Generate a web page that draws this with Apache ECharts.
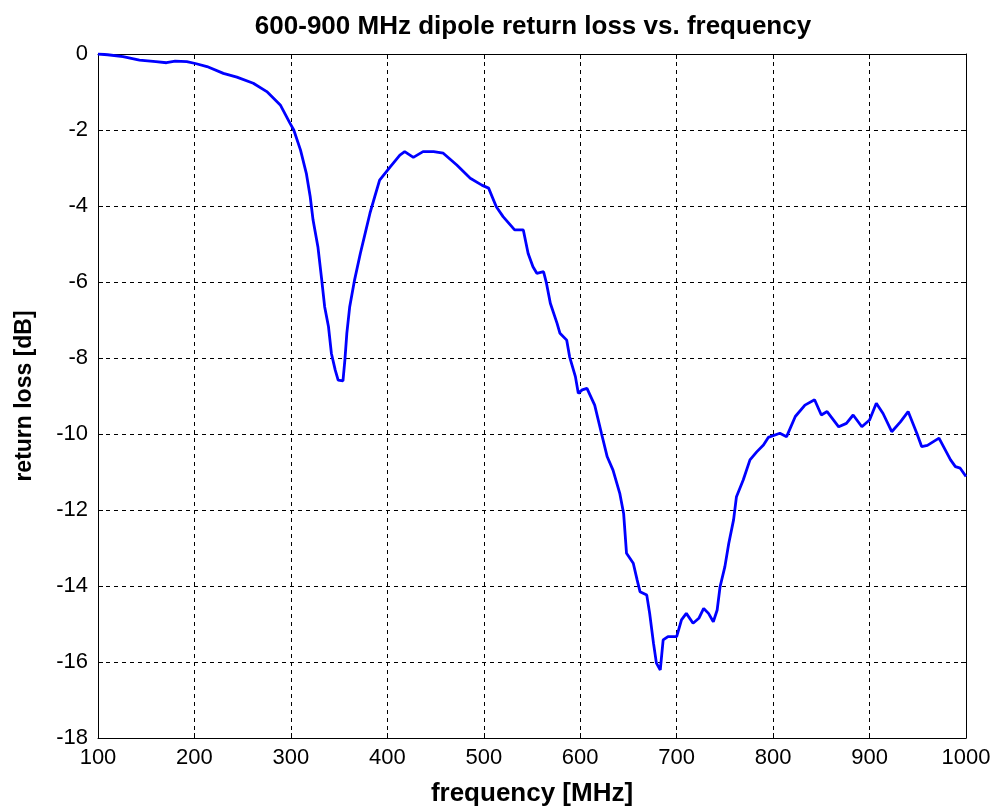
<!DOCTYPE html>
<html>
<head>
<meta charset="utf-8">
<script src="https://cdn.jsdelivr.net/npm/echarts@6/dist/echarts.min.js"></script>
<style>
  html, body { margin: 0; padding: 0; background: #fff; }
  #chart { width: 996px; height: 812px; }
</style>
</head>
<body>
<div id="chart"></div>
<script>
// Measured return loss of a 600-900 MHz dipole
const freqMHz = [100,110,126,143,160,171,180,192,201,213,230,244,261,275,289,299,303,310,316,320,323,328,332,335,339,342,346,349,354,356,358,361,366,372,377,382,387,392,403,413,418,427,437,448,458,472,486,498,505,513,520,532,541,546,551,555,562,565,569,576,579,586,589,595,598,602,607,615,622,628,634,641,645,648,655,659,662,669,672,676,679,683,686,691,700,705,710,717,723,728,733,738,742,745,750,754,759,762,769,776,783,790,795,807,814,823,833,843,850,856,868,876,883,892,900,907,914,923,932,940,949,954,960,972,984,989,994,1000];
const returnLossDb = [0,-0.02,-0.07,-0.16,-0.2,-0.23,-0.19,-0.2,-0.25,-0.33,-0.51,-0.61,-0.77,-0.99,-1.34,-1.82,-2.0,-2.53,-3.14,-3.75,-4.37,-5.07,-5.95,-6.65,-7.18,-7.88,-8.32,-8.58,-8.6,-8.05,-7.35,-6.65,-5.95,-5.25,-4.72,-4.19,-3.75,-3.32,-2.97,-2.66,-2.57,-2.72,-2.57,-2.57,-2.61,-2.92,-3.27,-3.45,-3.53,-4.02,-4.28,-4.63,-4.63,-5.25,-5.6,-5.77,-5.73,-6.03,-6.56,-7.09,-7.35,-7.53,-7.97,-8.49,-8.93,-8.84,-8.8,-9.24,-9.98,-10.6,-10.95,-11.56,-12.09,-13.14,-13.4,-13.84,-14.15,-14.24,-14.72,-15.51,-16.03,-16.21,-15.42,-15.33,-15.33,-14.89,-14.72,-14.98,-14.85,-14.59,-14.72,-14.94,-14.63,-14.02,-13.49,-12.88,-12.26,-11.65,-11.21,-10.68,-10.47,-10.29,-10.09,-9.98,-10.07,-9.54,-9.24,-9.1,-9.5,-9.41,-9.81,-9.72,-9.5,-9.81,-9.63,-9.19,-9.46,-9.94,-9.68,-9.41,-9.98,-10.33,-10.3,-10.11,-10.68,-10.86,-10.9,-11.12];

// Axis ranges and tick steps
const xRange = [100, 1000], xStep = 100;
const yRange = [-18, 0], yStep = 2;

const titleText = '600-900 MHz dipole return loss vs. frequency';
const xName = 'frequency [MHz]';
const yName = 'return loss [dB]';

const fontFamily = "'Liberation Sans', Arial, sans-serif";
const points = freqMHz.map((f, i) => [f, returnLossDb[i]]);

// Mirror axes on top and right close the plot box (ticks only)
const boxAxis = {
  axisLine: { show: true, onZero: false, lineStyle: { color: '#000', width: 1 } },
  axisTick: { show: true, inside: true, length: 5, lineStyle: { color: '#000' } },
  axisLabel: { show: false },
  splitLine: { show: false }
};

const chart = echarts.init(document.getElementById('chart'), null, { renderer: 'canvas' });
chart.setOption({
  backgroundColor: '#fff',
  animation: false,
  title: {
    text: titleText,
    left: 528, top: 9, textAlign: 'center',
    textStyle: { fontFamily, fontWeight: 'bold', fontSize: 26, color: '#000' }
  },
  grid: { left: 98, right: 30, top: 54, bottom: 74, containLabel: false },
  xAxis: [
    {
      type: 'value', min: xRange[0], max: xRange[1], interval: xStep,
      position: 'bottom',
      name: xName, nameLocation: 'middle', nameGap: 43,
      nameTextStyle: { fontFamily, fontWeight: 'bold', fontSize: 26, color: '#000' },
      axisLine: { show: true, onZero: false, lineStyle: { color: '#000', width: 1 } },
      axisTick: { show: true, inside: true, length: 5, lineStyle: { color: '#000' } },
      axisLabel: { fontFamily, fontSize: 22, color: '#000', margin: 9, formatter: v => String(v) },
      splitLine: { show: true, lineStyle: { color: '#000', type: [4, 4], width: 1 } }
    },
    Object.assign({ type: 'value', min: xRange[0], max: xRange[1], interval: xStep, position: 'top' }, boxAxis)
  ],
  yAxis: [
    {
      type: 'value', min: yRange[0], max: yRange[1], interval: yStep,
      position: 'left',
      name: yName, nameLocation: 'middle', nameGap: 62, nameRotate: 90,
      nameTextStyle: { fontFamily, fontWeight: 'bold', fontSize: 23, color: '#000' },
      axisLine: { show: true, onZero: false, lineStyle: { color: '#000', width: 1 } },
      axisTick: { show: true, inside: true, length: 5, lineStyle: { color: '#000' } },
      axisLabel: { fontFamily, fontSize: 22, color: '#000', margin: 10 },
      splitLine: { show: true, lineStyle: { color: '#000', type: [4, 4], width: 1 } }
    },
    Object.assign({ type: 'value', min: yRange[0], max: yRange[1], interval: yStep, position: 'right' }, boxAxis)
  ],
  series: [{
    type: 'line',
    data: points,
    xAxisIndex: 0, yAxisIndex: 0,
    showSymbol: false,
    lineStyle: { color: '#0000ff', width: 2.8 },
    z: 5
  }]
});
</script>
</body>
</html>
